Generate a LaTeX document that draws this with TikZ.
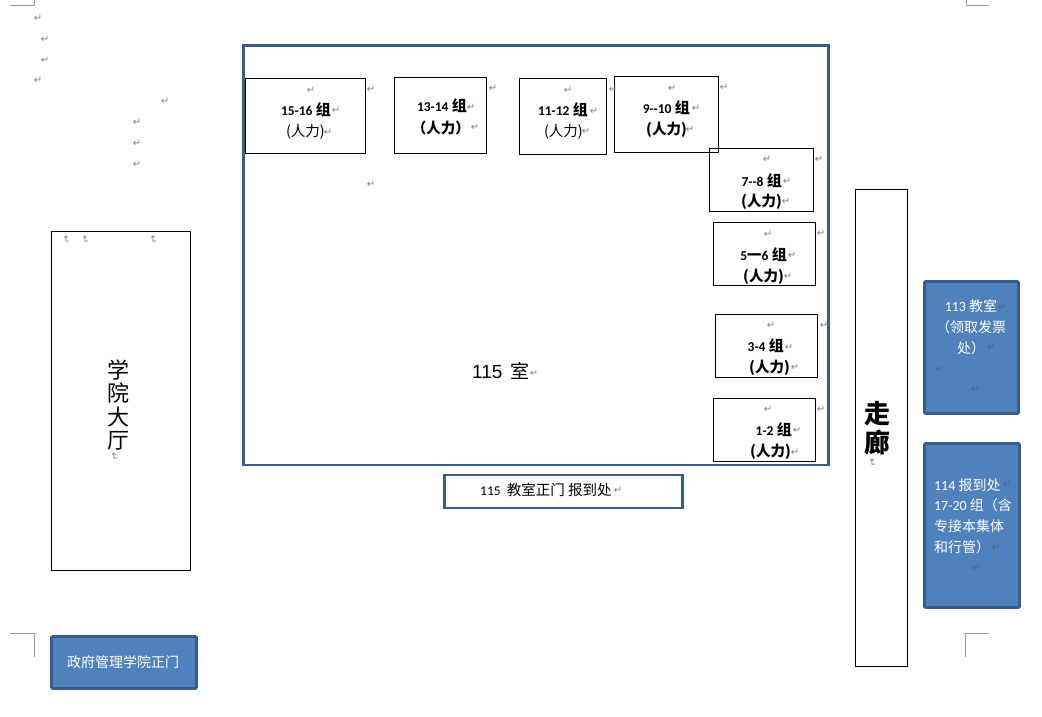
\documentclass[tikz,border=0pt]{standalone}
\usepackage{fontspec}
\setmainfont{Liberation Sans}
\newfontfamily\cjk{Noto Sans CJK SC}
\newfontfamily\calfont{Carlito}
\newfontfamily\djfont{DejaVu Sans}
\definecolor{edgeblue}{HTML}{385D8A}
\definecolor{fillblue}{HTML}{4F81BD}
\definecolor{markgray}{HTML}{808080}
\newcommand{\pmk}[2]{\node[parmark] at (#1,#2) {↵};}
\newcommand{\pmu}[2]{\node[parmark,rotate=-90] at (#1,#2) {↵};}
\newcommand{\pmbl}[2]{\node[parmark,text=edgeblue!70!gray] at (#1,#2) {↵};}
\newcommand{\boxat}[6][thinbox]{\node[#1,minimum width=#5pt-#3pt,minimum height=#6pt-#4pt] (#2) at ({(#3+#5)/2},{(#4+#6)/2}) {};}
\tikzset{
 thinbox/.style={draw=black,line width=1pt,inner sep=0pt,outer sep=0pt},
 bluebox/.style={draw=edgeblue,line width=2.6pt,fill=fillblue,rounded corners=1pt,inner sep=0pt,outer sep=0pt},
 roombox/.style={draw=edgeblue,line width=2.6pt,inner sep=0pt,outer sep=0pt},
 parmark/.style={font=\djfont\fontsize{10}{10}\selectfont,text=markgray,inner sep=0pt,xshift=1pt},
 lbl/.style={inner sep=0pt,text=black,font=\cjk\fontsize{14.5}{14.5}\selectfont},
 blbl/.style={lbl,font=\cjk\bfseries\fontsize{14.5}{14.5}\selectfont},
 wlbl/.style={inner sep=0pt,text=white,font=\cjk\fontsize{14}{20.8}\selectfont,align=center},
 crop/.style={draw=black!40,line width=0.7pt},
}
\newcommand{\gr}[1]{{\calfont\bfseries\fontsize{13.5}{14}\selectfont #1}}
\newcommand{\zu}{{\cjk\bfseries\fontsize{15}{15}\selectfont 组}}
\begin{document}
\begin{tikzpicture}[x=1pt,y=-1pt]
\useasboundingbox (0,0) rectangle (1042,717);
% crop marks
\draw[crop] (10,5) -- (34,5) -- (34,0);
\draw[crop] (966,0) -- (966,5) -- (989,5);
\draw[crop] (10,633) -- (34,633) -- (34,657);
\draw[crop] (989,633) -- (965,633) -- (965,657);
% boxes
\boxat[roombox]{room}{243.5}{45.5}{828.5}{465}
\boxat{g1516}{245}{79}{365}{153}
\boxat{g1314}{394}{77.5}{486}{153}
\boxat{g1112}{519}{78.5}{606}{154}
\boxat{g910}{614}{76.5}{718}{152}
\boxat{g78}{709}{148}{813}{211}
\boxat{g56}{713}{222}{815}{285}
\boxat{g34}{715}{314}{817}{377}
\boxat{g12}{713}{398}{815.5}{461}
\boxat[roombox]{door}{444.5}{475}{682.5}{508}
\boxat{hall}{51}{231}{190}{570}
\boxat{corr}{855}{189}{907}{666}
\boxat[bluebox]{r113}{924.5}{281.5}{1018.5}{413.5}
\boxat[bluebox]{r114}{924.5}{443.5}{1019.5}{607.5}
\boxat[bluebox]{gate}{51.5}{636.5}{196.5}{688.5}
% group labels
\node[lbl,anchor=east] (t1516a) at (331,110) {\gr{15-16} \zu};
\node[lbl,anchor=east] (t1516b) at (325,132) {(人力)};
\node[lbl,anchor=east] (t1314a) at (467,106) {\gr{13-14} \zu};
\node[blbl,anchor=east] (t1314b) at (470,128) {（人力）};
\node[lbl,anchor=east] (t1112a) at (588,110) {\gr{11-12} \zu};
\node[lbl,anchor=east] (t1112b) at (583,132) {(人力)};
\node[lbl,anchor=east] (t910a) at (690,108) {\gr{9--10} \zu};
\node[blbl,anchor=east] (t910b) at (687,130) {(人力)};
\node[lbl,anchor=east] (t78a) at (782,181) {\gr{7--8} \zu};
\node[blbl,anchor=east] (t78b) at (782,202) {(人力)};
\node[lbl,anchor=east] (t56a) at (787,255) {\gr{5}{\cjk\bfseries 一}\gr{6} \zu};
\node[blbl,anchor=east] (t56b) at (784,276.5) {(人力)};
\node[lbl,anchor=east] (t34a) at (784,346) {\gr{3-4} \zu};
\node[blbl,anchor=east] (t34b) at (790,368) {(人力)};
\node[lbl,anchor=east] (t12a) at (792,430) {\gr{1-2} \zu};
\node[blbl,anchor=east] (t12b) at (791,452) {(人力)};
% centre labels
\node[lbl,anchor=west] (t115) at (472,371) {{\fontsize{19}{19}\selectfont\rmfamily 115}\hspace{8pt}{\cjk\fontsize{19}{19}\selectfont 室}};
\node[lbl,anchor=west] (tdoor) at (480,490) {{\calfont\fontsize{13.5}{14}\selectfont 115}\hspace{3pt} {\cjk\fontsize{14.5}{14.5}\selectfont 教室正门 报到处}};
\node[lbl,align=center,font=\cjk\fontsize{22}{23.5}\selectfont] (thall) at (118,405) {学\\院\\大\\厅};
\node[lbl,align=center,font=\cjk\bfseries\fontsize{26}{29}\selectfont] (tcorr) at (877,428) {走\\廊};
\node[wlbl] (t113) at (971,327) {{\calfont 113} 教室\\（领取发票\\处）};
\node[wlbl,align=left] (t114) at (973,516) {{\calfont 114} 报到处\\{\calfont 17-20} 组（含\\专接本集体\\和行管）};
\node[wlbl,font=\cjk\fontsize{14}{14}\selectfont] (tgate) at (123,662) {政府管理学院正门};
% paragraph marks
\pmk{37}{18}\pmk{44}{39}\pmk{44}{60}\pmk{37}{80}
\pmk{164}{101}\pmk{136}{122}\pmk{136}{143}\pmk{136}{164}
\pmu{65}{240}\pmu{84}{240}\pmu{152}{240}\pmu{113}{457}\pmu{871}{463}
\pmk{310}{90}\pmk{335}{110}\pmk{327}{132}\pmk{370}{89}\pmk{370}{184}
\pmk{492}{88}\pmk{470}{107}\pmk{474}{127}
\pmk{567}{90}\pmk{593}{111}\pmk{585}{131}\pmk{612}{89}
\pmk{671}{88}\pmk{695}{108}\pmk{689}{129}\pmk{723}{87}
\pmk{766}{159}\pmk{786}{181}\pmk{785}{201}\pmk{818}{159}
\pmk{767}{234}\pmk{791}{255}\pmk{787}{276}\pmk{820}{233}
\pmk{770}{325}\pmk{788}{347}\pmk{794}{367}\pmk{823}{325}
\pmk{767}{409}\pmk{796}{430}\pmk{794}{452}\pmk{820}{409}
\pmk{533}{373}\pmk{617}{490}
\pmbl{1001}{307}\pmbl{990}{347}\pmbl{938}{369}\pmbl{974}{389}
\pmbl{1006}{484}\pmbl{995}{547}\pmbl{975}{568}
\end{tikzpicture}
\end{document}
